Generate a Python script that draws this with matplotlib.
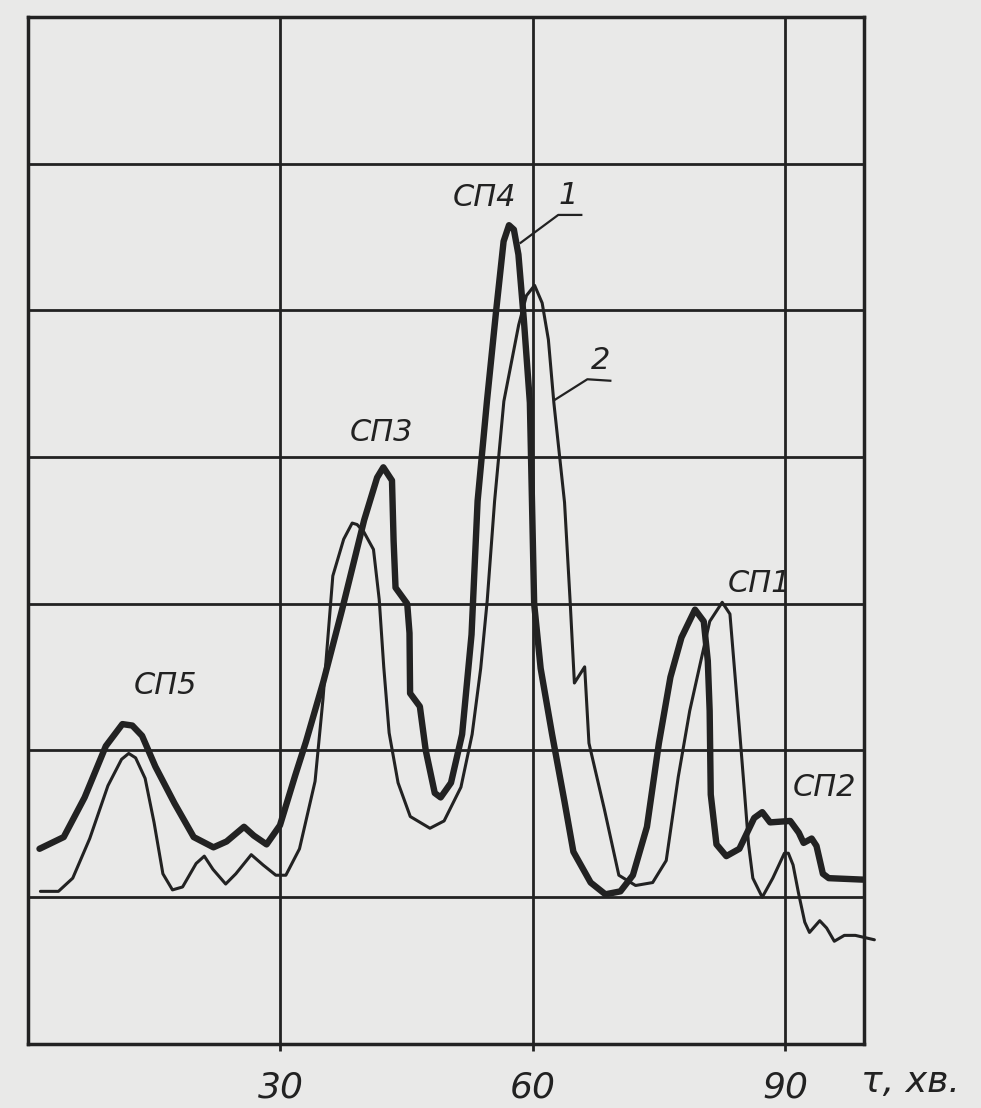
import matplotlib
matplotlib.use("Agg")
import matplotlib.pyplot as plt

# ---- data (x = time, min; y = relative signal, grid units) ----
t1 = [1.37, 4.25, 6.73, 9.25, 11.22, 12.40, 13.56, 15.14, 17.41, 19.69, 22.04, 23.60, 25.67,
      26.83, 28.35, 29.94, 31.75, 33.03, 35.10, 37.32, 39.94, 41.48, 42.22, 43.25, 43.44, 43.67,
      45.06, 45.33, 45.40, 46.56, 47.26, 48.33, 49.03, 50.26, 51.58, 52.70, 53.42, 54.53, 55.61,
      56.51, 57.15, 57.73, 58.27, 58.91, 59.63, 60.14, 60.91, 62.27, 63.75, 64.80, 66.85, 68.60,
      70.39, 71.87, 73.54, 74.96, 76.33, 77.64, 79.25, 80.29, 80.77, 80.99, 81.12, 81.80, 82.97,
      84.52, 86.28, 87.24, 88.17, 90.56, 91.58, 92.15, 93.11, 93.68, 94.44, 95.14, 99.18]
y1 = [1.33, 1.41, 1.68, 2.03, 2.18, 2.17, 2.10, 1.89, 1.64, 1.41, 1.34, 1.38, 1.48,
      1.42, 1.36, 1.49, 1.83, 2.06, 2.47, 2.96, 3.57, 3.86, 3.93, 3.84, 3.43, 3.11,
      3.00, 2.80, 2.39, 2.30, 2.00, 1.71, 1.68, 1.78, 2.11, 2.79, 3.70, 4.38, 4.99,
      5.47, 5.58, 5.55, 5.38, 4.94, 4.37, 3.00, 2.56, 2.11, 1.65, 1.31, 1.10, 1.02,
      1.04, 1.15, 1.48, 2.05, 2.50, 2.77, 2.96, 2.88, 2.61, 2.27, 1.70, 1.36, 1.28,
      1.33, 1.54, 1.58, 1.51, 1.52, 1.44, 1.37, 1.40, 1.35, 1.16, 1.13, 1.12]

t2 = [1.48, 3.62, 5.32, 7.34, 9.50, 11.12, 11.97, 12.79, 13.92, 14.98, 16.03, 17.17, 18.37,
      19.98, 20.95, 21.98, 23.49, 24.70, 26.53, 27.93, 29.45, 30.64, 32.26, 34.11, 35.05, 36.22,
      37.51, 38.52, 39.10, 39.90, 41.05, 41.73, 42.27, 42.91, 43.97, 45.42, 47.76, 49.44, 51.44,
      52.77, 53.79, 54.56, 55.44, 56.54, 58.30, 59.22, 60.19, 61.09, 61.83, 62.48, 63.75, 64.42,
      64.92, 66.14, 66.65, 68.48, 70.20, 72.19, 74.22, 75.83, 77.26, 78.62, 79.94, 81.00, 82.48,
      83.40, 83.86, 84.51, 85.15, 85.61, 86.12, 87.24, 88.49, 89.87, 90.34, 90.90, 91.54, 92.29,
      92.85, 94.07, 94.89, 95.80, 96.99, 98.30, 100.56]
y2 = [1.04, 1.04, 1.13, 1.40, 1.76, 1.94, 1.98, 1.95, 1.81, 1.51, 1.16, 1.05, 1.07,
      1.23, 1.28, 1.19, 1.09, 1.16, 1.29, 1.22, 1.15, 1.15, 1.33, 1.79, 2.35, 3.19,
      3.44, 3.55, 3.54, 3.49, 3.37, 3.03, 2.57, 2.12, 1.78, 1.55, 1.47, 1.52, 1.75,
      2.11, 2.56, 3.02, 3.70, 4.38, 4.90, 5.10, 5.17, 5.05, 4.80, 4.37, 3.69, 3.01,
      2.46, 2.57, 2.05, 1.60, 1.15, 1.08, 1.10, 1.25, 1.82, 2.27, 2.61, 2.88, 3.01,
      2.93, 2.61, 2.16, 1.70, 1.36, 1.13, 1.00, 1.13, 1.30, 1.30, 1.22, 1.03, 0.83,
      0.76, 0.84, 0.79, 0.70, 0.74, 0.74, 0.71]

peak_labels = ["СП5", "СП3", "СП4", "СП1", "СП2"]
peak_x = [16.3, 41.97, 54.25, 86.94, 94.68]
peak_y = [2.44, 4.17, 5.77, 3.14, 1.75]

curve_names = ["1", "2"]
curve_name_x = [64.24, 68.07]
curve_name_y = [5.78, 4.66]
leader1_x = [58.53, 63.0, 65.74]
leader1_y = [5.46, 5.65, 5.65]
leader2_x = [62.6, 66.46, 69.19]
leader2_y = [4.39, 4.53, 4.52]

x_ticks = [30, 60, 90]
x_ticklabels = ["30", "60", "90"]
y_grid = [1, 2, 3, 4, 5, 6]
x_unit = "τ, хв."

# ---- style ----
paper = "#e9e9e8"
ink = "#222222"

fig = plt.figure(figsize=(9.81, 11.08), dpi=100, facecolor=paper)
ax = fig.add_axes([0.0285, 0.0578, 0.852, 0.927])
ax.set_facecolor(paper)
ax.set_xlim(0, 99.3)
ax.set_ylim(0, 7)

for v in x_ticks:
    ax.axvline(v, color=ink, lw=2.0, zorder=1)
for h in y_grid:
    ax.axhline(h, color=ink, lw=2.0, zorder=1)

ax.plot(t2, y2, color=ink, lw=2.2, solid_joinstyle="round", solid_capstyle="round",
        zorder=3, clip_on=False)
ax.plot(t1, y1, color=ink, lw=4.6, solid_joinstyle="round", solid_capstyle="round",
        zorder=4)

for lab, x, y in zip(peak_labels, peak_x, peak_y):
    ax.text(x, y, lab, fontsize=22, style="italic", color=ink, ha="center", va="center")

for lab, x, y in zip(curve_names, curve_name_x, curve_name_y):
    ax.text(x, y, lab, fontsize=22, style="italic", color=ink, ha="center", va="center")
ax.plot(leader1_x, leader1_y, color=ink, lw=1.6, zorder=5)
ax.plot(leader2_x, leader2_y, color=ink, lw=1.6, zorder=5)

for s in ax.spines.values():
    s.set_color(ink)
    s.set_linewidth(2.5)

ax.set_yticks([])
ax.set_xticks(x_ticks)
ax.set_xticklabels(x_ticklabels, fontsize=26, style="italic", color=ink)
ax.tick_params(axis="x", length=5, width=2, color=ink, pad=14)

fig.text(0.928, 0.0235, x_unit, fontsize=26, style="italic", color=ink,
         ha="center", va="center")

fig.savefig("out.png", dpi=100, facecolor=paper)
